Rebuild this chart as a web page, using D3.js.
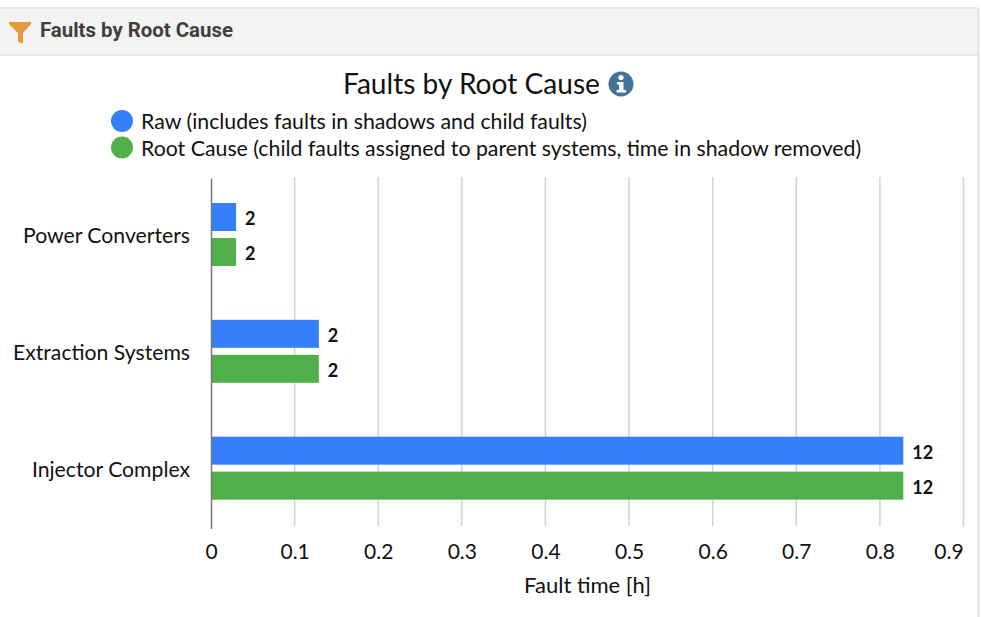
<!DOCTYPE html>
<html>
<head>
<meta charset="utf-8">
<script src="https://cdn.jsdelivr.net/npm/d3@7/dist/d3.min.js"></script>
<style>
  html, body { margin: 0; padding: 0; background: #fff; }
  svg { display: block; font-family: "Lato", sans-serif; }
</style>
</head>
<body>
<svg width="981" height="617"></svg>
<script>
const categories = ["Power Converters", "Extraction Systems", "Injector Complex"];
const seriesNames = ["Raw", "Root Cause"];
const rawValues = [0.03, 0.129, 0.828];
const rootValues = [0.03, 0.129, 0.828];
const rawCounts = [2, 2, 12];
const rootCounts = [2, 2, 12];
const xTicks = [0, 0.1, 0.2, 0.3, 0.4, 0.5, 0.6, 0.7, 0.8, 0.9];
const legendLabels = [
    "Raw (includes faults in shadows and child faults)",
    "Root Cause (child faults assigned to parent systems, time in shadow removed)"
];
const colors = ["#367ffa", "#52b04a"];

const svg = d3.select("svg");

// panel header
svg.append("rect").attr("x", 0).attr("y", 8).attr("width", 978).attr("height", 47)
    .attr("fill", "#f3f3f3");
svg.append("line").attr("x1", 0).attr("x2", 978).attr("y1", 8).attr("y2", 8)
    .attr("stroke", "#e2e2e2").attr("stroke-width", 1.5);
svg.append("line").attr("x1", 0).attr("x2", 978).attr("y1", 55).attr("y2", 55)
    .attr("stroke", "#dedede").attr("stroke-width", 1.5);
svg.append("line").attr("x1", 978.5).attr("x2", 978.5).attr("y1", 8).attr("y2", 617)
    .attr("stroke", "#e4e4e4").attr("stroke-width", 2);
svg.append("path")
    .attr("d", "M9,22 L31,22 L31,24 L23,33 L23,43 L20,43 L18,41 L18,33 L9,24 Z")
    .attr("fill", "#e59a3c");
svg.append("text").attr("x", 40).attr("y", 37)
    .attr("font-family", "Roboto").attr("font-weight", 700).attr("font-size", 20.4)
    .attr("fill", "#3f3f3f").text("Faults by Root Cause");

// title + info icon
svg.append("text").attr("x", 343).attr("y", 94)
    .attr("font-size", 28.1).attr("fill", "#111").text("Faults by Root Cause");
svg.append("circle").attr("cx", 621).attr("cy", 84).attr("r", 12.5).attr("fill", "#457299");
svg.append("circle").attr("cx", 621).attr("cy", 77.5).attr("r", 2.6).attr("fill", "#fff");
svg.append("path").attr("d", "M617,82 L623.5,82 L623.5,90 L626,90 L626,92.5 L616.5,92.5 L616.5,90 L619,90 L619,84.5 L617,84.5 Z")
    .attr("fill", "#fff");

// legend
const legend = svg.selectAll(".legend").data(legendLabels).enter().append("g")
    .attr("class", "legend")
    .attr("transform", function(d, i) { return "translate(122," + (121 + i * 26.5) + ")"; });
legend.append("circle").attr("r", 11).attr("fill", function(d, i) { return colors[i]; });
legend.append("text").attr("x", 19).attr("y", 8)
    .attr("font-size", 21.3).attr("fill", "#111")
    .text(function(d) { return d; });

// scales
const x = d3.scaleLinear().domain([0, 0.9]).range([211, 963.5]);
const y = d3.scaleBand().domain(categories).range([177, 527.5]);
const inner = d3.scaleBand().domain(seriesNames).range([26, 89]).paddingInner(0.2);

// grid
svg.append("g").selectAll("line").data(xTicks.slice(1)).enter().append("line")
    .attr("x1", function(d) { return x(d); }).attr("x2", function(d) { return x(d); })
    .attr("y1", 177).attr("y2", 526)
    .attr("stroke", "#d2d2d2").attr("stroke-width", 1.5);

// bars
const groups = svg.selectAll(".cat").data(categories).enter().append("g")
    .attr("class", "cat")
    .attr("transform", function(d) { return "translate(0," + y(d) + ")"; });

[rawValues, rootValues].forEach(function(values, s) {
    const counts = s === 0 ? rawCounts : rootCounts;
    groups.append("rect")
        .attr("x", x(0))
        .attr("y", inner(seriesNames[s]))
        .attr("width", function(d, i) { return x(values[i]) - x(0); })
        .attr("height", inner.bandwidth())
        .attr("fill", colors[s]);
    groups.append("text")
        .attr("x", function(d, i) { return x(values[i]) + 9; })
        .attr("y", inner(seriesNames[s]) + inner.bandwidth() / 2 + 8)
        .attr("font-size", 18).attr("font-weight", 700).attr("fill", "#111")
        .text(function(d, i) { return counts[i]; });
});

// axes
const xAxis = svg.append("g").attr("transform", "translate(0,526)")
    .call(d3.axisBottom(x).tickValues(xTicks).tickSize(0).tickPadding(18).tickFormat(d3.format("~g")));
xAxis.select(".domain").remove();
xAxis.selectAll("text").attr("font-size", 21).attr("font-family", "Lato").attr("fill", "#111");
// last label is pulled in so it stays inside the plot
xAxis.selectAll("text").filter(function(d) { return d === 0.9; }).attr("dx", -15);

const yAxis = svg.append("g").attr("transform", "translate(211,1)")
    .call(d3.axisLeft(y).tickSize(0).tickPadding(21));
yAxis.select(".domain").attr("stroke", "#777").attr("stroke-width", 1.5);
yAxis.selectAll("text").attr("font-size", 21.2).attr("font-family", "Lato").attr("fill", "#111");

svg.append("text").attr("x", 587.5).attr("y", 593).attr("text-anchor", "middle")
    .attr("font-size", 22).attr("fill", "#111").text("Fault time [h]");
</script>
</body>
</html>
